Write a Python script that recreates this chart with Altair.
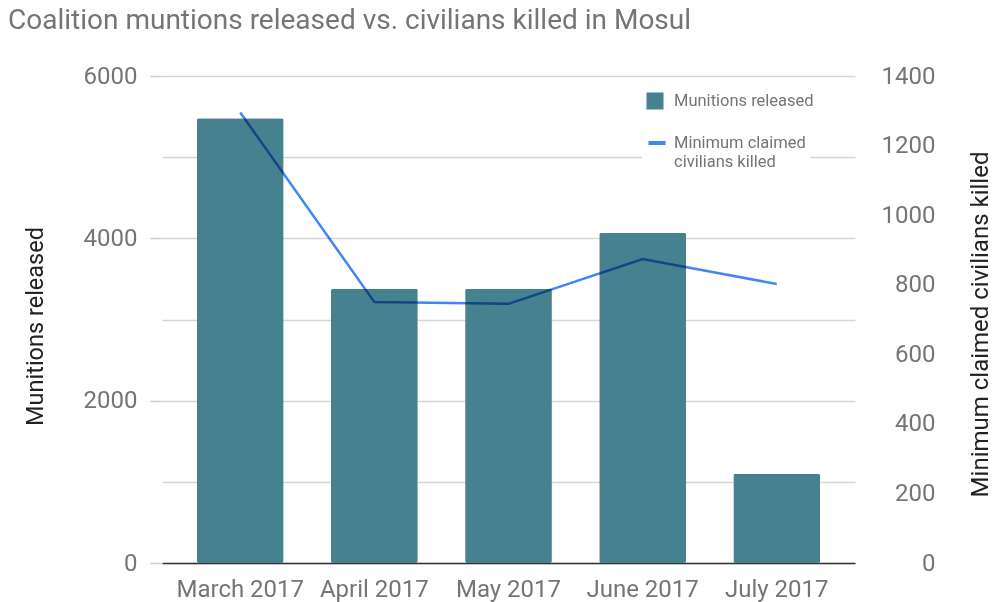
import altair as alt
import pandas as pd

months = ["March 2017", "April 2017", "May 2017", "June 2017", "July 2017"]
munitions = [5480, 3380, 3380, 4070, 1100]
civilians = [1295, 750, 745, 874, 802]

bar_name = "Munitions released"
line_name = "Minimum claimed civilians killed"

df = pd.DataFrame({
    "month": months,
    "munitions": munitions,
    "civilians": civilians,
    "bar_series": [bar_name] * len(months),
    "line_series": [line_name] * len(months),
})

FONT = "Roboto"
GRAY = "#757575"
DARK = "#222222"

x_enc = alt.X(
    "month:N",
    sort=months,
    title=None,
    scale=alt.Scale(paddingInner=0.353, paddingOuter=0.26),
    axis=alt.Axis(labelAngle=0, ticks=False, domainColor="#333333", domainWidth=1.5,
                  labelFontSize=24, labelColor=GRAY, labelPadding=14, labelFont=FONT),
)

bars = alt.Chart(df).mark_bar(cornerRadius=2).encode(
    x=x_enc,
    y=alt.Y(
        "munitions:Q",
        title="Munitions released",
        scale=alt.Scale(domain=[0, 6000], nice=False),
        axis=alt.Axis(
            values=[0, 1000, 2000, 3000, 4000, 5000, 6000],
            format="d",
            labelExpr="datum.value % 2000 == 0 ? datum.label : ''",
            grid=True, gridColor="#d6d6d6", gridWidth=1.5,
            domain=False,
            tickSize=12, tickWidth=1.5,
            tickColor={"condition": {"test": "datum.value % 2000 != 0", "value": "transparent"},
                       "value": "#cccccc"},
            labelFontSize=24, labelColor=GRAY, labelPadding=13, labelFont=FONT,
            titleFontSize=23.5, titleColor=DARK, titleFontWeight="normal", titleFont=FONT,
            titlePadding=36, titleY=250,
        ),
    ),
    color=alt.Color(
        "bar_series:N",
        scale=alt.Scale(domain=[bar_name], range=["#45818e"]),
        legend=alt.Legend(
            title=None, orient="none", legendX=480, legendY=12,
            symbolType="square", symbolSize=290, symbolStrokeWidth=0,
            labelFontSize=16.5, labelColor=GRAY, labelFont=FONT, labelOffset=10,
            fillColor="white", padding=4,
        ),
    ),
)

line = alt.Chart(df).mark_line(strokeWidth=2.5, blend="multiply").encode(
    x=alt.X("month:N", sort=months),
    y=alt.Y(
        "civilians:Q",
        title="Minimum claimed civilians killed",
        scale=alt.Scale(domain=[0, 1400], nice=False),
        axis=alt.Axis(
            orient="right",
            values=[0, 200, 400, 600, 800, 1000, 1200, 1400],
            format="d",
            grid=False, domain=False, ticks=False,
            labelAlign="right", labelPadding=80,
            labelFontSize=24, labelColor=GRAY, labelFont=FONT,
            titleFontSize=24, titleColor=DARK, titleFontWeight="normal", titleFont=FONT,
            titleAngle=270, titlePadding=57, titleY=248,
        ),
    ),
    stroke=alt.Stroke(
        "line_series:N",
        scale=alt.Scale(domain=[line_name], range=["#4285f4"]),
        legend=alt.Legend(
            title=None, orient="none", legendX=480, legendY=52,
            symbolType="stroke", symbolSize=290, symbolStrokeWidth=4,
            labelFontSize=16.5, labelColor=GRAY, labelFont=FONT, labelOffset=6,
            labelExpr="[ 'Minimum claimed', 'civilians killed' ]",
            labelBaseline="middle",
            fillColor="white", padding=4,
        ),
    ),
)

chart = alt.layer(bars, line).resolve_scale(
    y="independent", color="independent", stroke="independent"
).properties(
    width=693,
    height=487,
    autosize=alt.AutoSizeParams(type="none"),
    padding={"left": 162, "top": 76, "right": 137, "bottom": 39},
    title=alt.TitleParams(
        "Coalition muntions released vs. civilians killed in Mosul",
        anchor="start", frame="group", dx=-154, dy=-25, fontSize=28, color=GRAY,
        font=FONT, fontWeight="normal",
    ),
).configure_view(stroke=None)

chart.save("out.html", embed_options={"renderer": "svg", "actions": False})
